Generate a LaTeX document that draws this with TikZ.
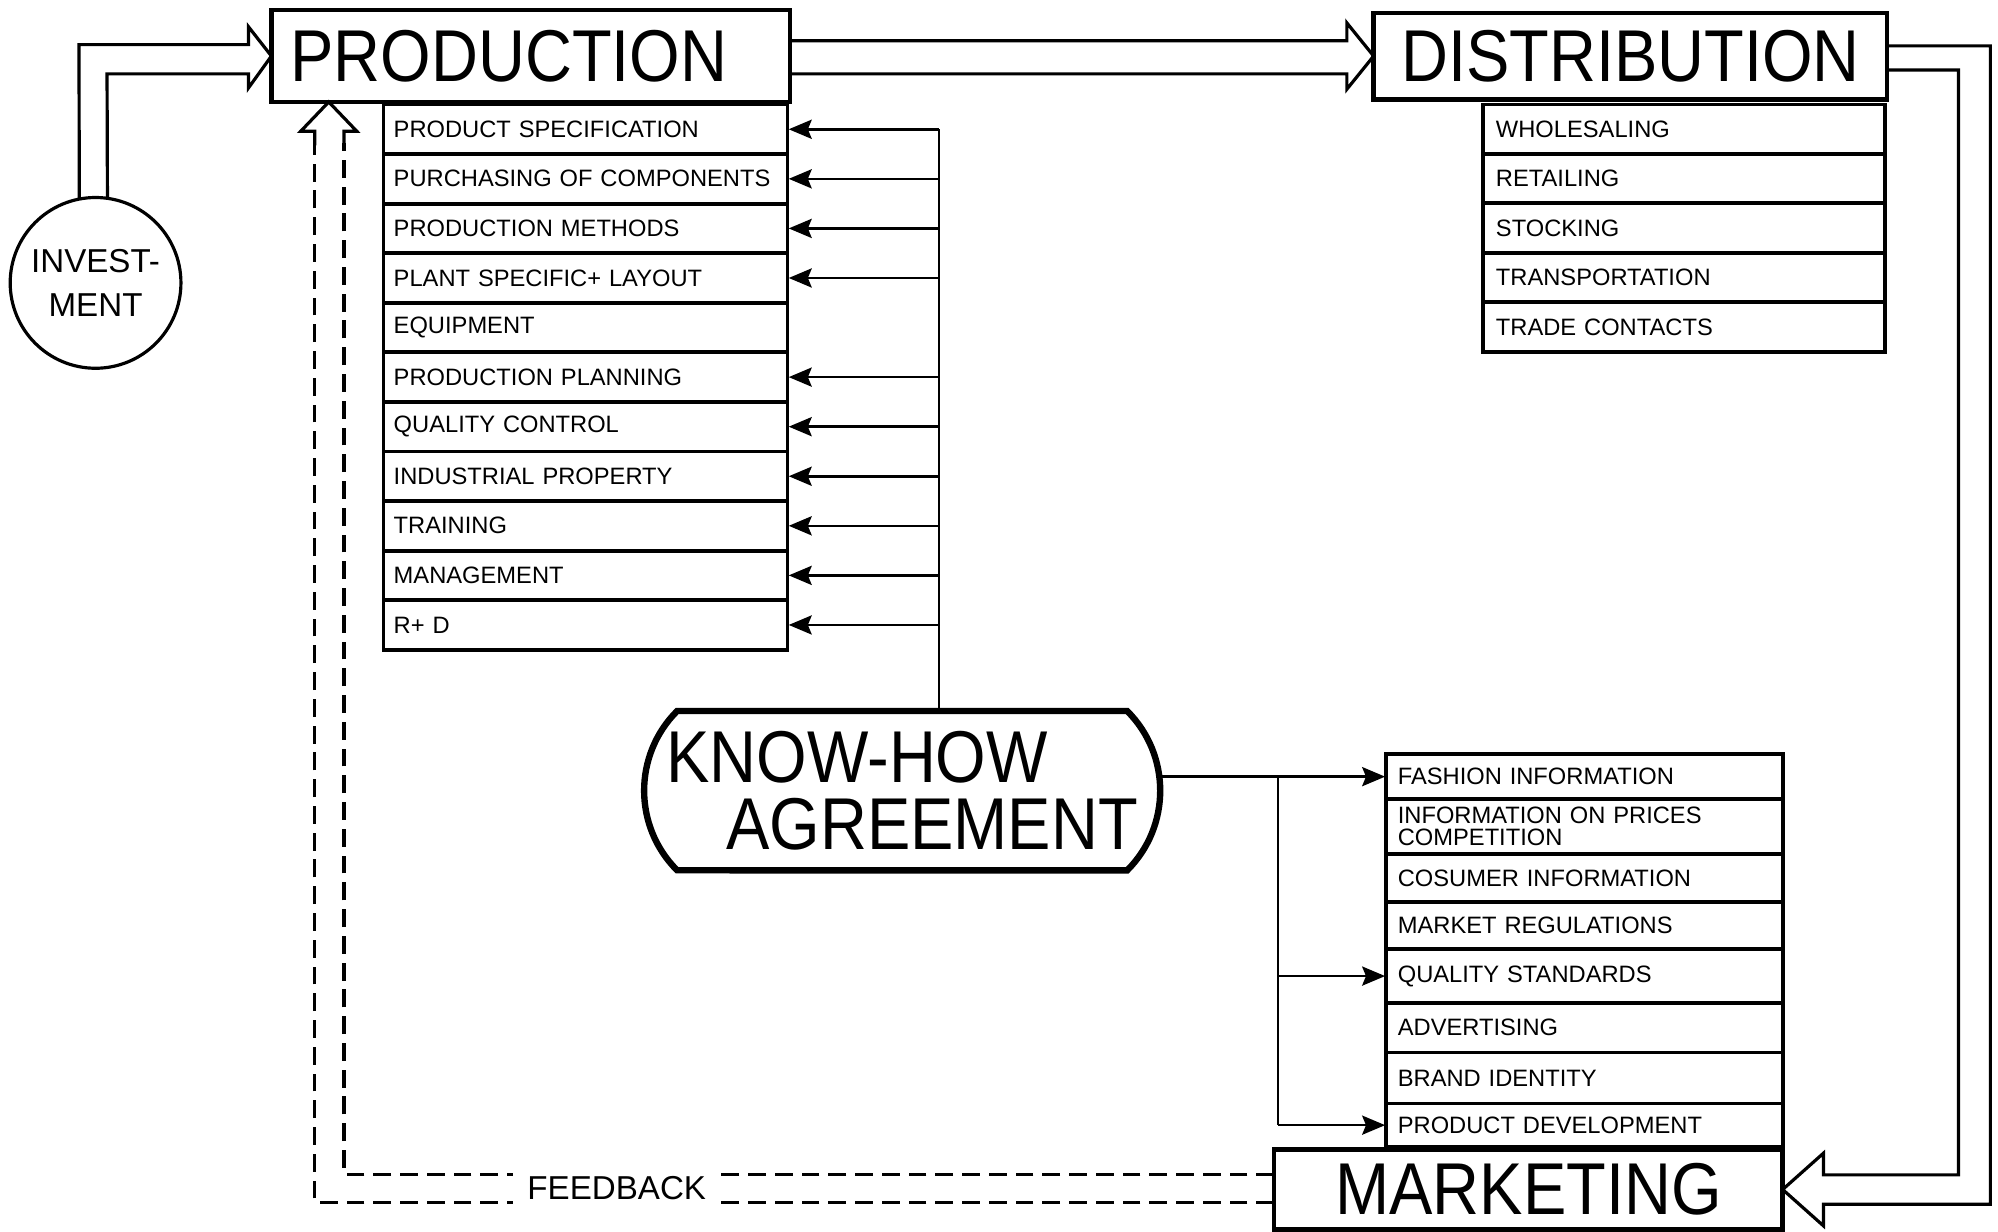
\documentclass[tikz,border=0pt]{standalone}
\usepackage{fontspec}
\setmainfont{Liberation Sans}
\usepackage{tikz}
\usetikzlibrary{arrows.meta,positioning,shapes.misc}
\newcommand{\bigfnt}{\fontsize{51}{52}\selectfont}
\newcommand{\midfnt}{\fontsize{26}{35}\selectfont}
\newcommand{\smallfnt}{\fontsize{18.6}{17}\selectfont\hyphenpenalty=10000}
\newcommand{\tall}[1]{\scalebox{1}[1.13]{#1}}

\begin{document}
\begin{tikzpicture}[x=1pt,y=-1pt,>={Stealth[length=18pt,width=15pt,inset=3pt]},
  every node/.style={outer sep=0pt},
  head/.style={draw,line width=3.5pt,font=\bigfnt,inner sep=0pt},
  item/.style={draw,line width=3pt,font=\smallfnt,inner ysep=0pt,align=left},
  pitem/.style={item,inner xsep=8pt,text width=301pt,minimum height=38.9pt},
  ditem/.style={item,inner xsep=10pt,text width=295pt,minimum height=38.8pt},
  mitem/.style={item,inner xsep=9pt,text width=293pt,minimum height=38pt},
  hollow/.style={line width=2.5pt,line join=miter},
  feed/.style={line width=2.5pt,dash pattern=on 14pt off 7pt},
  thin/.style={line width=2pt}]
\useasboundingbox (0,0) rectangle (1568,966.1);

% main blocks
\node[head,text width=377pt,inner xsep=15pt,align=left,minimum height=72pt] (prod) at (416.5,44) {\tall{PRODUCTION}};
\node[head,minimum width=403pt,minimum height=68pt] (dist) at (1279.5,44) {\tall{DISTRIBUTION}};
\node[head,minimum width=399pt,minimum height=63pt] (mkt) at (1199.5,933.5) {\tall{MARKETING}};
\node[draw,circle,line width=2.5pt,minimum size=134pt,font=\midfnt,align=center,inner sep=0pt] (inv) at (75,222) {INVEST-\\MENT};
\node[draw,rounded rectangle,rounded rectangle arc length=90,line width=5pt,minimum width=405pt,minimum height=125pt,font=\bigfnt,align=left,inner sep=0pt] (kh) at (708,620.5) {\tall{KNOW-HOW}\\\hspace*{47pt}\tall{AGREEMENT}};

% production list
\node[pitem,anchor=north west] (spec) at (301,82) {PRODUCT SPECIFICATION};
\node[pitem] (purch) [below=0pt of spec] {PURCHASING OF COMPONENTS};
\node[pitem] (meth) [below=0pt of purch] {PRODUCTION METHODS};
\node[pitem] (plant) [below=0pt of meth] {PLANT SPECIFIC+ LAYOUT};
\node[pitem] (equip) [below=0pt of plant] {EQUIPMENT};
\node[pitem] (plan) [below=0pt of equip] {PRODUCTION PLANNING};
\node[pitem] (qual) [below=0pt of plan] {QUALITY CONTROL};
\node[pitem] (indus) [below=0pt of qual] {INDUSTRIAL PROPERTY};
\node[pitem] (train) [below=0pt of indus] {TRAINING};
\node[pitem] (manag) [below=0pt of train] {MANAGEMENT};
\node[pitem] (rnd) [below=0pt of manag] {R+ D};

% distribution list
\node[ditem,anchor=north west] (whole) at (1164,82) {WHOLESALING};
\node[ditem] (retail) [below=0pt of whole] {RETAILING};
\node[ditem] (stock) [below=0pt of retail] {STOCKING};
\node[ditem] (trans) [below=0pt of stock] {TRANSPORTATION};
\node[ditem] (trade) [below=0pt of trans] {TRADE CONTACTS};

% marketing list
\node[mitem,anchor=north west,minimum height=35pt] (fash) at (1088,592) {FASHION INFORMATION};
\node[mitem,minimum height=43pt] (price) [below=0pt of fash] {INFORMATION ON PRICES\\COMPETITION};
\node[mitem] (cons) [below=0pt of price] {COSUMER INFORMATION};
\node[mitem,minimum height=37pt] (regul) [below=0pt of cons] {MARKET REGULATIONS};
\node[mitem,minimum height=42pt] (stand) [below=0pt of regul] {QUALITY STANDARDS};
\node[mitem,minimum height=39pt] (adv) [below=0pt of stand] {ADVERTISING};
\node[mitem,minimum height=40pt] (brand) [below=0pt of adv] {BRAND IDENTITY};
\node[mitem,minimum height=34pt] (pdev) [below=0pt of brand] {PRODUCT DEVELOPMENT};

% big hollow arrows
\draw[hollow] (inv.101) -- (62,35) -- (195,35) -- (195,21) -- (prod.west) -- (195,69) -- (195,58) -- (84,58) -- (inv.82);
\draw[hollow] ([yshift=12pt]prod.east) -- (1057,32) -- (1057,18) -- (dist.west) -- (1057,70) -- (1057,58) -- ([yshift=-14pt]prod.east);
\draw[hollow] ([yshift=8pt]dist.east) -- (1562,36) -- (1562,945) -- (1431,945) -- (1431,962) -- (mkt.east)
  -- (1431,905) -- (1431,922) -- (1537,922) -- (1537,55) -- ([yshift=-11pt]dist.east);

% know-how to production
\coordinate (pbus) at (737,0);
\draw[thin] (kh.north -| pbus) -- (pbus |- spec.east);
\path[thin,->,shorten >=1pt]
  (pbus |- spec.east) edge (spec.east)
  (pbus |- purch.east) edge (purch.east)
  (pbus |- meth.east) edge (meth.east)
  (pbus |- plant.east) edge (plant.east)
  (pbus |- plan.east) edge (plan.east)
  (pbus |- qual.east) edge (qual.east)
  (pbus |- indus.east) edge (indus.east)
  (pbus |- train.east) edge (train.east)
  (pbus |- manag.east) edge (manag.east)
  (pbus |- rnd.east) edge (rnd.east);

% know-how to marketing
\coordinate (mbus) at (1003,0);
\draw[thin] (mbus |- fash.west) -- (mbus |- pdev.west);
\path[thin,->,shorten >=1pt]
  (kh.east |- fash.west) edge (fash.west)
  (mbus |- stand.west) edge (stand.west)
  (mbus |- pdev.west) edge (pdev.west);

% feedback
\draw[feed] ([yshift=12pt]mkt.west) -- (270,921.5) -- (270,112);
\draw[feed] ([yshift=-10pt]mkt.west) -- (247,943.5) -- (247,112);
\draw[hollow] (247,114) -- (247,103) -- (236,103) -- ([xshift=-158.5pt]prod.south) -- (280,103) -- (270,103) -- (270,114);
\node[fill=white,font=\midfnt,inner xsep=11pt,inner ysep=4pt] (fb) at (484,932) {FEEDBACK};
\end{tikzpicture}
\end{document}
